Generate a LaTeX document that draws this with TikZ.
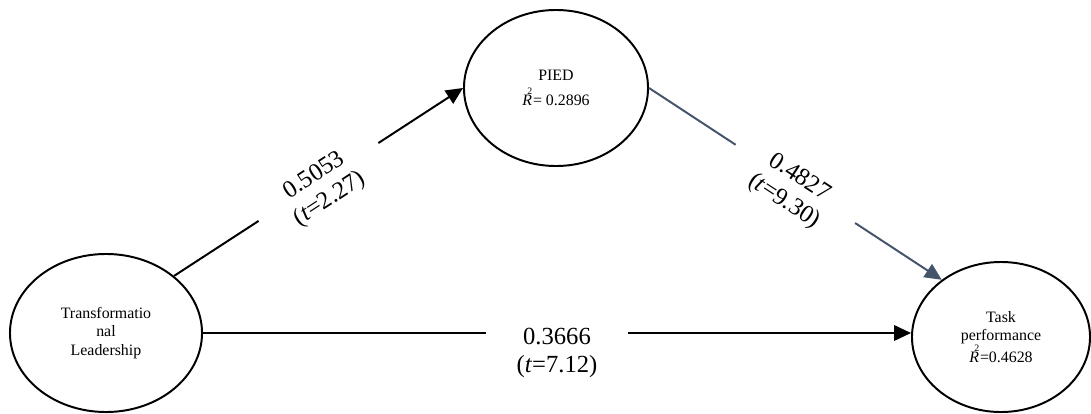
\documentclass[tikz,border=0pt]{standalone}
\usepackage{fontspec}
\setmainfont{Liberation Serif}
\usetikzlibrary{arrows.meta,shapes.geometric}
\definecolor{slate}{HTML}{44546A}
\newcommand{\rsq}{\textit{R}\kern-0.3em\raisebox{1.5ex}{\fontsize{7}{7}\selectfont 2}\kern0.05em}

\begin{document}
\begin{tikzpicture}[
    x=0.025cm, y=-0.025cm,
    var/.style={ellipse, draw=black, line width=1.4pt, inner sep=0pt, align=center,
        font=\fontsize{11.3}{13}\selectfont},
    conn/.style={line width=1.4pt, -{Triangle[length=12pt, width=11pt]}},
    coef/.style={fill=white, align=center, inner xsep=22pt, inner ysep=1pt,
        font=\fontsize{17.5}{20}\selectfont},
]
    \useasboundingbox (0,0) rectangle (1091,414);

    % latent variables
    \node[var, minimum width=4.8cm, minimum height=3.95cm] (TL) at (106,333) {Transformatio\\nal\\Leadership};
    \node[var, minimum width=4.6cm, minimum height=3.9cm] (PIED) at (556,88) {PIED\\[5pt]\rsq= 0.2896};
    \node[var, minimum width=4.45cm, minimum height=3.75cm] (TP) at (1001,337) {Task\\performance\\\rsq=0.4628};

    % paths with coefficients
    \draw[conn] (TL.40) -- node[coef, sloped, yshift=-5pt] {0.5053\\(\textit{t}=2.27)} (PIED.west);
    \draw[conn, draw=slate, fill=slate] (PIED.east) -- node[coef, sloped, yshift=-5pt] {0.4827\\(\textit{t}=9.30)} (TP.136);
    \draw[conn] (TL.east) -- node[coef, yshift=-14pt] {0.3666\\(\textit{t}=7.12)} (TL.east -| TP.west);

\end{tikzpicture}
\end{document}
